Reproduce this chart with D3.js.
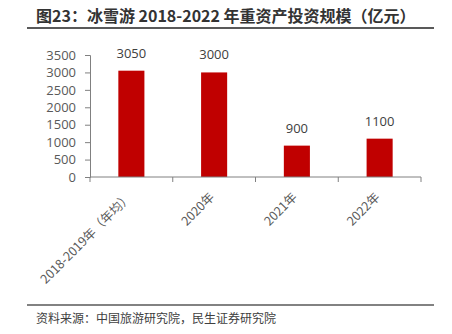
<!DOCTYPE html>
<html><head><meta charset="utf-8">
<script src="https://cdn.jsdelivr.net/npm/d3@7"></script>
<style>
body{margin:0;background:#fff;}
svg{display:block;font-family:"Noto Sans CJK SC","Noto Sans",sans-serif;}
</style></head>
<body><svg id="c" width="452" height="334"></svg>
<script>
const categories = ["2018-2019年（年均）","2020年","2021年","2022年"];
const values = [3050, 3000, 900, 1100];
const yTicks = [0,500,1000,1500,2000,2500,3000,3500];
const title = "图23：冰雪游 2018-2022 年重资产投资规模（亿元）";
const source = "资料来源：中国旅游研究院，民生证券研究院";

const svg = d3.select("#c");
const x = d3.scaleBand().domain(categories).range([90,421]).paddingInner(0.685).paddingOuter(0.3425);
const y = d3.scaleLinear().domain([0,3500]).range([177,55]);

svg.append("text").attr("x",36).attr("y",21.5).attr("font-size",16).attr("font-weight","bold")
  .attr("fill","#333").text(title);
svg.append("line").attr("x1",27).attr("x2",434).attr("y1",28).attr("y2",28).attr("stroke","#595959").attr("stroke-width",2);

// y axis
const ya = svg.append("g").attr("transform","translate(90,0)")
  .call(d3.axisLeft(y).tickValues(yTicks).tickFormat(d3.format("d")).tickSize(5).tickPadding(9));
ya.select(".domain").attr("stroke","#808080");
ya.selectAll(".tick line").attr("stroke","#808080");
ya.selectAll(".tick text").attr("fill","#595959").attr("font-size",13).attr("font-family","'Open Sans','Noto Sans',sans-serif");

// bars
svg.selectAll("rect.bar").data(values).join("rect").attr("class","bar")
  .attr("x",(d,i)=>x(categories[i])).attr("width",x.bandwidth())
  .attr("y",d=>y(d)).attr("height",d=>y(0)-y(d)).attr("fill","#C00000");
svg.selectAll("text.val").data(values).join("text").attr("class","val")
  .attr("x",(d,i)=>x(categories[i])+x.bandwidth()/2).attr("y",d=>y(d)-13)
  .attr("text-anchor","middle").attr("font-size",13).attr("fill","#404040")
  .attr("font-family","'Open Sans','Noto Sans',sans-serif").text(d=>d);

// x axis
const xa = svg.append("g").attr("transform","translate(0,177)");
xa.append("line").attr("x1",90).attr("x2",421).attr("stroke","#808080");
const bounds = [90].concat(categories.map(c=>x(c)+x.bandwidth()/2+x.step()/2));
xa.selectAll("line.tk").data(bounds).join("line").attr("class","tk")
  .attr("x1",d=>d).attr("x2",d=>d).attr("y1",0).attr("y2",5).attr("stroke","#808080");
xa.selectAll("text.xl").data(categories).join("text").attr("class","xl")
  .attr("transform",c=>`translate(${x(c)+x.bandwidth()/2+1},${21}) rotate(-45)`)
  .attr("text-anchor","end").attr("font-size",12.5).attr("fill","#595959").text(c=>c);

svg.append("line").attr("x1",27).attr("x2",434).attr("y1",305).attr("y2",305).attr("stroke","#595959").attr("stroke-width",1.5);
svg.append("text").attr("x",36).attr("y",323).attr("font-size",12).attr("fill","#404040").text(source);
</script></body></html>
